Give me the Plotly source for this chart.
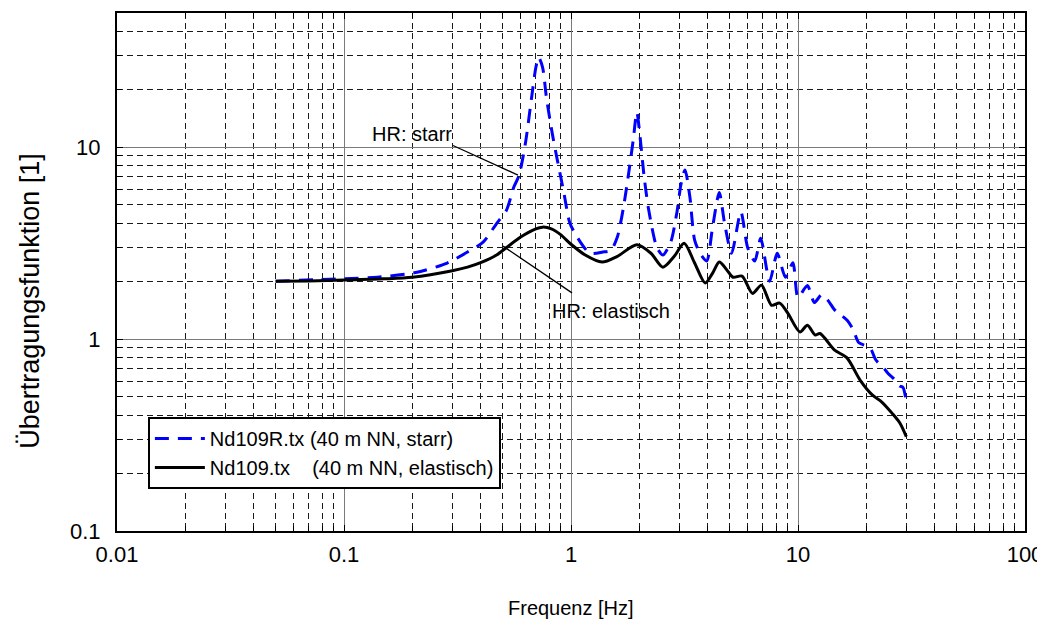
import plotly.graph_objects as go

# Übertragungsfunktion, elastischer Halbraum (Nd109.tx)
f_elast = [0.05, 0.07, 0.1, 0.15, 0.2, 0.3, 0.35, 0.4, 0.47, 0.52, 0.6, 0.68, 0.75, 0.82,
           0.9, 1.0, 1.15, 1.37, 1.6, 1.95, 2.25, 2.54, 2.85, 3.15, 3.5, 3.9, 4.2, 4.5,
           4.85, 5.17, 5.67, 6.3, 6.9, 7.65, 8.3, 9.0, 10.2, 11.0, 11.9, 12.5, 14.5, 16.4,
           18.8, 21.3, 23.4, 26.0, 28.1, 30.0]
h_elast = [2.0, 2.01, 2.03, 2.06, 2.1, 2.27, 2.37, 2.5, 2.74, 3.0, 3.4, 3.7, 3.83, 3.75,
           3.5, 3.12, 2.75, 2.52, 2.7, 3.1, 2.8, 2.37, 2.7, 3.16, 2.5, 1.96, 2.2, 2.52,
           2.3, 2.1, 2.13, 1.73, 1.91, 1.5, 1.54, 1.37, 1.09, 1.18, 1.05, 1.07, 0.876, 0.8,
           0.61, 0.51, 0.47, 0.41, 0.365, 0.31]

# Übertragungsfunktion, starrer Halbraum (Nd109R.tx)
f_starr = [0.05, 0.075, 0.1, 0.14, 0.21, 0.285, 0.35, 0.41, 0.47, 0.52, 0.56, 0.59, 0.63,
           0.67, 0.7, 0.72, 0.75, 0.78, 0.83, 0.87, 0.93, 0.99, 1.1, 1.21, 1.38, 1.5, 1.6,
           1.7, 1.8, 1.88, 1.95, 2.02, 2.1, 2.2, 2.39, 2.54, 2.75, 2.93, 3.05, 3.18, 3.34,
           3.5, 3.7, 3.96, 4.2, 4.5, 4.75, 5.1, 5.6, 6.0, 6.45, 6.85, 7.5, 8.1, 8.8, 9.5,
           10.0, 11.0, 11.8, 12.7, 13.5, 14.5, 15.3, 16.5, 17.5, 18.5, 20.0, 21.0, 22.0,
           24.0, 25.0, 26.5, 28.0, 29.0, 30.0]
h_starr = [2.0, 2.04, 2.06, 2.1, 2.23, 2.49, 2.84, 3.2, 4.0, 4.7, 6.2, 7.1, 10.5,
           18.0, 26.0, 29.4, 26.0, 18.0, 11.5, 8.6, 5.8, 4.0, 3.2, 2.8, 2.84, 2.9, 3.4,
           4.8, 7.5, 10.9, 15.2, 11.0, 7.0, 4.7, 3.0, 2.74, 3.2, 4.6, 6.4, 7.6, 5.5,
           3.3, 2.8, 2.55, 3.8, 5.8, 4.0, 2.8, 4.6, 3.0, 2.55, 3.35, 2.0, 2.8, 2.1, 2.5,
           1.65, 1.9, 1.55, 1.7, 1.6, 1.42, 1.35, 1.25, 1.12, 0.96, 0.92, 0.88, 0.78,
           0.7, 0.66, 0.62, 0.57, 0.56, 0.47]

x_major = [0.01, 0.1, 1, 10, 100]
x_labels = ["0.01", "0.1", "1", "10", "100"]
y_major = [0.1, 1, 10]
y_labels = ["0.1", "1", "10"]
mult = [2, 3, 4, 5, 6, 7, 8, 9]
x_minor = [d * m for d in [0.01, 0.1, 1, 10] for m in mult]
y_minor = [d * m for d in [0.1, 1] for m in mult] + [20, 30, 40]

sans = "Liberation Sans, Arial"

fig = go.Figure()
fig.add_trace(go.Scatter(
    x=f_starr, y=h_starr, mode="lines", line_shape="spline",
    line=dict(color="#0000ff", width=3, dash="14px,9px", smoothing=0.7),
    name="Nd109R.tx (40 m NN, starr)",
))
fig.add_trace(go.Scatter(
    x=f_elast, y=h_elast, mode="lines", line_shape="spline",
    line=dict(color="black", width=3, smoothing=0.8),
    name="Nd109.tx\u00a0\u00a0\u00a0\u00a0(40 m NN, elastisch)",
))

axis_common = dict(
    type="log", showline=True, linecolor="black", linewidth=2, mirror="allticks",
    ticks="inside", ticklen=6, tickcolor="black", automargin=False,
    showgrid=True, gridcolor="#7a7a7a", gridwidth=1, zeroline=False,
    tickfont=dict(family=sans, size=22, color="black"),
)
minor_common = dict(ticks="inside", ticklen=5, tickcolor="black",
                    showgrid=True, gridcolor="#1a1a1a", gridwidth=1, griddash="6px,4px")

fig.update_xaxes(range=[-2, 2], tickmode="array", tickvals=x_major, ticktext=x_labels,
                 minor=dict(tickmode="array", tickvals=x_minor, **minor_common),
                 ticklabelstandoff=3, **axis_common)
fig.update_yaxes(range=[-1, 1.69897], tickmode="array", tickvals=y_major, ticktext=y_labels,
                 minor=dict(tickmode="array", tickvals=y_minor, **minor_common),
                 ticklabelstandoff=10, **axis_common)

# Hinweislinien
fig.add_shape(type="line", x0=0.302, y0=10.2, x1=0.584, y1=7.15,
              line=dict(color="black", width=1.3))
fig.add_shape(type="line", x0=0.502, y0=3.05, x1=1.01, y1=1.74,
              line=dict(color="black", width=1.3))

fig.add_annotation(x=-0.515, y=1.07, text="HR: starr", showarrow=False,
                   xanchor="right", yanchor="middle",
                   font=dict(family=sans, size=20, color="black"))
fig.add_annotation(x=0.175, y=0.146, text="HR: elastisch", showarrow=False,
                   xanchor="center", yanchor="middle",
                   font=dict(family=sans, size=20, color="black"))

fig.add_annotation(xref="paper", yref="paper", x=0.5, y=-0.149, text="Frequenz [Hz]",
                   showarrow=False, xanchor="center", yanchor="middle",
                   font=dict(family=sans, size=20, color="black"))
fig.add_annotation(xref="paper", yref="paper", x=-0.096, y=0.444,
                   text="Übertragungsfunktion [1]", textangle=-90,
                   showarrow=False, xanchor="center", yanchor="middle",
                   font=dict(family=sans, size=27, color="black"))

# page body adds 8px offset, so the figure is a bit smaller than the window
fig.update_layout(
    width=1037, height=619,
    margin=dict(l=109, r=20, t=5, b=96),
    paper_bgcolor="white", plot_bgcolor="white",
    legend=dict(x=0.034, y=0.22, xanchor="left", yanchor="top",
                bgcolor="white", bordercolor="black", borderwidth=2,
                itemwidth=50, font=dict(family=sans, size=20, color="black")),
)

fig.write_html("out.html")
